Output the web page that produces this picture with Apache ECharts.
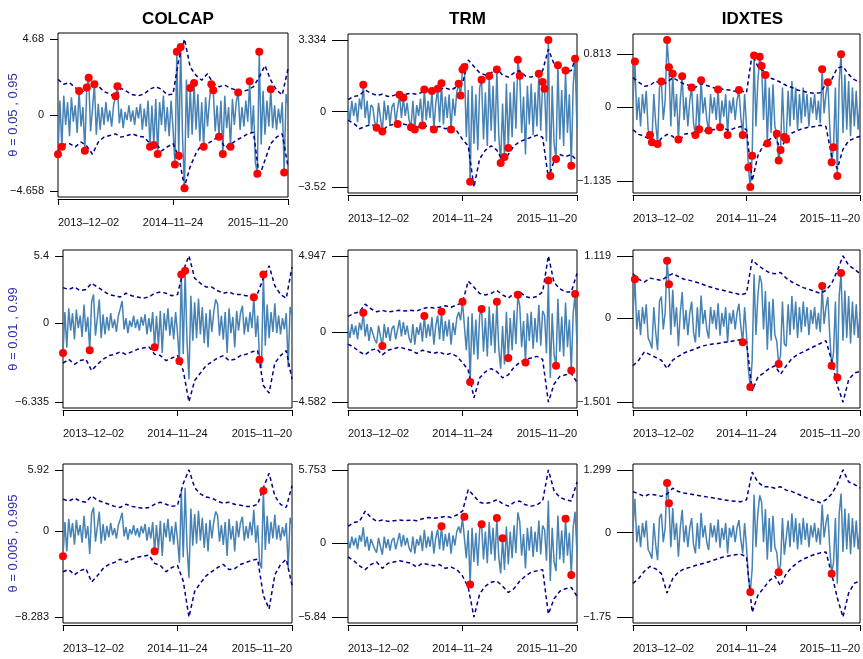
<!DOCTYPE html>
<html>
<head>
<meta charset="utf-8">
<title>VaR backtest</title>
<script src="https://cdn.jsdelivr.net/npm/echarts@6/dist/echarts.min.js"></script>
<style>
  html, body { margin: 0; padding: 0; background: #fff; }
  #chart { width: 863px; height: 659px; }
</style>
</head>
<body>
<div id="chart"></div>
<script>
// ---- data (daily returns resampled to 121 steps, quantile bands every 3rd step) ----
const markets = ['COLCAP', 'TRM', 'IDXTES'];
const thetaLabels = ['\u03b8 = 0.05 , 0.95', '\u03b8 = 0.01 , 0.99', '\u03b8 = 0.005 , 0.995'];
const dateLabels = ['2013\u201312\u201302', '2014\u201311\u201324', '2015\u201311\u201320'];
const BAND_STEP = 3;

const colcapRet = [
  -2.4, 0.9, -1.94, 1.2, -0.6, 0.8, -1.3, 1.1, -0.4, 0.6,
  -1.1, 1.49, -0.7, 0.5, -2.18, 1.7, 2.3, -1.0, 0.4, 1.9,
  -1.2, 0.7, -0.9, 0.5, -0.6, 0.8, -0.4, 0.3, -0.7, 0.6,
  1.16, 1.78, -0.5, 0.4, -0.8, 0.2, -0.3, 0.6, -0.4, 0.3,
  -0.6, 0.5, -0.2, 0.7, -0.9, 0.4, -0.7, 0.9, -1.94, 0.6,
  -1.84, 1.0, -2.39, 0.8, -0.6, 1.2, -1.0, 0.5, -1.3, 0.9,
  -0.8, -3.04, 3.9, -2.5, 4.2, -1.5, -4.5, 2.2, -1.4, 1.67,
  -1.2, 1.98, -0.9, 1.3, -1.6, 0.8, -1.94, 1.1, -0.7, 0.9,
  1.9, 1.53, -1.0, 0.6, -1.33, 0.9, -2.39, 1.2, -0.8, 0.5,
  -1.94, 1.0, -0.6, 0.8, 1.4, -0.9, 0.5, -0.7, 0.9, -0.4,
  2.08, -1.1, 0.6, -2.94, -3.6, 3.9, -1.8, 1.5, -1.2, 0.9,
  -0.7, 1.6, -0.8, 0.6, -0.9, 0.4, -0.5, 0.8, -3.53, 1.3,
  0.6
];
const trmRet = [
  0.3, -0.4, 0.5, -0.2, 0.4, -0.5, 0.6, 0.1, 1.24, -0.3,
  0.5, -0.6, 0.3, 0.2, -0.5, -0.76, 0.4, -0.3, -0.93, 0.5,
  -0.4, 0.3, -0.6, 0.2, 0.4, -0.5, -0.58, 0.78, -0.3, 0.64,
  -0.2, 0.4, -0.4, -0.73, 0.5, -0.84, 0.3, -0.2, 0.6, -0.65,
  1.03, -0.4, 0.5, -0.3, 0.96, -0.84, 0.4, 1.06, -0.5, 1.31,
  -0.6, 0.7, -0.3, 0.8, -0.84, 0.6, -0.2, 0.9, 1.29, 0.75,
  1.96, 2.07, -1.2, 1.0, -3.27, 1.2, -1.5, 0.8, -1.8, 1.1,
  1.48, -1.3, 0.9, -1.6, 1.65, -0.9, 1.2, -1.4, 1.96, -1.1,
  -2.4, 0.37, -2.12, 1.3, -1.7, 0.9, -1.2, 1.4, -0.8, 2.41,
  1.66, -1.0, 0.7, -2.0, 1.2, -0.6, 1.3, -1.1, 0.9, -0.7,
  1.76, -0.9, 1.37, 1.06, -1.4, 3.334, -3.0, 1.2, -1.5, -2.21,
  2.15, -1.3, 1.0, -1.6, 1.91, -1.0, 0.8, -2.52, 1.2, 2.46,
  -0.8
];
const idxtesRet = [
  0.1, 0.7, -0.2, 0.15, -0.3, 0.2, -0.1, 0.25, -0.35, -0.43,
  -0.54, 0.2, -0.25, -0.57, 0.3, 0.39, -0.2, 0.1, 1.03, 0.61,
  -0.3, 0.51, -0.15, 0.2, -0.5, 0.1, 0.47, -0.2, 0.15, -0.3,
  0.1, 0.3, -0.25, -0.43, 0.2, -0.34, 0.41, -0.1, 0.15, -0.2,
  -0.36, 0.2, -0.1, 0.15, -0.2, 0.27, -0.31, 0.1, -0.15, 0.2,
  -0.43, 0.1, -0.1, 0.15, -0.2, 0.1, 0.26, -0.15, -0.43, 0.2,
  -0.3, -0.93, -1.23, -0.75, 0.79, -0.3, 0.4, 0.77, 0.63, -0.2,
  0.49, -0.56, 0.3, -0.4, 0.35, -0.3, -0.41, -0.82, -0.66, 0.3,
  -0.46, -0.5, 0.25, -0.3, 0.4, -0.2, 0.3, -0.35, 0.2, -0.25,
  0.3, -0.15, 0.2, -0.3, 0.15, -0.1, 0.2, -0.2, 0.1, -0.25,
  0.58, -0.1, 0.2, 0.38, -0.3, -0.85, -0.62, 0.3, -1.06, 0.4,
  0.81, -0.4, 0.5, -0.35, 0.4, -0.45, 0.3, -0.3, 0.25, -0.35,
  0.1
];

// upper / lower quantile bands, one value every BAND_STEP steps (41 values)
const colcapQ95 = [2.2, 1.9, 2.0, 1.7, 1.4, 1.55, 1.75, 1.8, 1.45, 1.3, 1.1, 1.65, 1.45, 1.25, 1.2, 1.3, 1.6, 1.75, 1.6, 1.25, 1.3, 3.4, 4.68, 2.95, 2.45, 2.15, 2.55, 1.95, 1.75, 1.85, 1.65, 1.55, 1.45, 1.55, 1.75, 2.35, 3.05, 2.15, 1.55, 1.25, 2.85];
const colcapQ05 = [-2.2, -1.8, -1.75, -1.95, -1.65, -1.9, -2.4, -1.65, -1.35, -1.25, -1.15, -1.35, -1.25, -1.15, -1.3, -1.35, -1.75, -1.7, -2.2, -1.95, -1.75, -2.55, -4.4, -3.15, -2.35, -1.8, -1.75, -1.55, -1.25, -2.0, -1.8, -1.55, -1.35, -1.15, -1.05, -3.8, -2.75, -1.75, -1.35, -1.15, -3.15];
const colcapQ99 = [2.85, 2.7, 2.9, 2.6, 2.7, 3.2, 2.9, 2.6, 2.3, 2.2, 2.1, 2.4, 2.2, 2.1, 2.0, 2.1, 2.4, 2.5, 2.4, 2.2, 2.3, 4.2, 5.4, 3.6, 3.2, 2.9, 2.9, 2.6, 2.4, 2.5, 2.3, 2.3, 2.2, 2.2, 2.4, 3.6, 4.6, 3.0, 2.3, 2.0, 4.5];
const colcapQ01 = [-3.2, -2.9, -3.3, -3.0, -2.9, -3.8, -3.3, -2.9, -2.6, -2.5, -2.3, -2.5, -2.3, -2.1, -2.0, -1.9, -2.5, -2.6, -3.0, -2.8, -2.6, -3.8, -6.3, -4.6, -4.0, -3.4, -3.1, -2.8, -2.6, -3.0, -2.9, -2.6, -2.5, -2.3, -2.2, -5.0, -5.6, -3.2, -2.6, -2.2, -4.5];
const colcapQ995 = [3.1, 2.9, 3.2, 2.9, 2.8, 3.4, 3.0, 2.8, 2.6, 2.4, 2.3, 2.6, 2.4, 2.3, 2.2, 2.3, 2.6, 2.8, 2.6, 2.4, 2.5, 4.6, 5.92, 4.2, 3.6, 3.3, 3.2, 2.9, 2.7, 2.8, 2.6, 2.5, 2.4, 2.4, 2.6, 4.2, 5.6, 3.4, 2.6, 2.3, 4.4];
const colcapQ005 = [-3.9, -3.7, -4.2, -3.8, -3.6, -4.9, -4.3, -3.6, -3.2, -3.0, -2.7, -3.0, -2.7, -2.5, -2.4, -2.3, -3.1, -3.3, -3.9, -3.5, -3.3, -4.8, -8.28, -5.8, -5.0, -4.3, -3.9, -3.5, -3.2, -3.7, -3.6, -3.2, -3.0, -2.8, -2.7, -6.2, -7.5, -4.2, -3.2, -2.7, -5.2];

const trmQ95 = [0.55, 0.7, 0.75, 1.0, 0.85, 0.75, 0.8, 0.7, 0.75, 0.85, 0.8, 0.85, 0.8, 0.9, 1.0, 0.95, 1.05, 1.1, 1.0, 1.15, 1.3, 2.4, 2.1, 1.8, 1.7, 1.8, 2.0, 1.7, 1.6, 1.8, 1.9, 1.65, 1.6, 1.7, 1.9, 2.9, 2.2, 2.0, 1.9, 1.9, 2.7];
const trmQ05 = [-0.4, -0.55, -0.8, -0.7, -0.6, -0.7, -0.9, -0.65, -0.6, -0.55, -0.6, -0.65, -0.75, -0.65, -0.7, -0.75, -0.7, -0.8, -0.75, -0.9, -1.3, -1.6, -3.52, -2.2, -1.8, -1.6, -1.8, -2.3, -2.0, -1.6, -1.4, -1.3, -1.2, -1.1, -1.2, -3.1, -2.3, -2.0, -2.1, -2.0, -2.3];
const trmQ99 = [1.0, 1.2, 1.3, 1.8, 1.5, 1.3, 1.4, 1.3, 1.35, 1.4, 1.35, 1.4, 1.35, 1.5, 1.6, 1.55, 1.6, 1.7, 1.6, 1.75, 1.9, 3.3, 2.9, 2.5, 2.4, 2.5, 2.7, 2.4, 2.2, 2.5, 2.6, 2.3, 2.2, 2.3, 2.6, 4.947, 3.2, 2.8, 2.6, 2.6, 3.8];
const trmQ01 = [-0.8, -1.0, -1.3, -1.5, -1.2, -1.1, -1.5, -1.2, -1.1, -1.0, -1.1, -1.2, -1.4, -1.2, -1.3, -1.4, -1.3, -1.5, -1.4, -1.6, -2.0, -2.5, -4.3, -3.0, -2.6, -2.4, -2.6, -3.0, -2.8, -2.3, -2.0, -1.8, -1.7, -1.6, -1.8, -4.582, -3.4, -2.9, -2.8, -2.7, -3.3];
const trmQ995 = [1.3, 1.6, 1.7, 2.5, 2.0, 1.7, 1.8, 1.7, 1.75, 1.8, 1.75, 1.8, 1.75, 1.9, 2.0, 1.95, 2.0, 2.1, 2.0, 2.2, 2.5, 4.2, 3.7, 3.2, 3.1, 3.2, 3.4, 3.1, 2.9, 3.2, 3.3, 3.0, 2.9, 3.0, 3.3, 5.753, 4.1, 3.6, 3.4, 3.3, 4.8];
const trmQ005 = [-1.1, -1.4, -1.8, -2.1, -1.7, -1.5, -2.0, -1.6, -1.5, -1.4, -1.5, -1.6, -1.9, -1.6, -1.7, -1.8, -1.7, -2.0, -1.9, -2.1, -2.6, -3.5, -5.84, -4.0, -3.4, -3.1, -3.0, -3.4, -3.9, -3.6, -3.0, -2.6, -2.3, -2.2, -2.1, -5.6, -4.4, -3.8, -3.6, -3.5, -4.2];

const idxtesQ95 = [0.45, 0.38, 0.32, 0.33, 0.4, 0.35, 0.38, 0.45, 0.4, 0.35, 0.33, 0.3, 0.36, 0.33, 0.3, 0.28, 0.27, 0.26, 0.24, 0.25, 0.22, 0.813, 0.62, 0.55, 0.45, 0.42, 0.38, 0.33, 0.3, 0.26, 0.24, 0.22, 0.21, 0.22, 0.35, 0.42, 0.6, 0.62, 0.5, 0.42, 0.38];
const idxtesQ05 = [-0.35, -0.42, -0.45, -0.5, -0.6, -0.48, -0.42, -0.45, -0.55, -0.42, -0.4, -0.42, -0.38, -0.36, -0.35, -0.34, -0.33, -0.36, -0.32, -0.3, -0.35, -1.135, -0.75, -0.58, -0.5, -0.45, -0.65, -0.48, -0.4, -0.36, -0.33, -0.31, -0.3, -0.28, -0.3, -0.75, -0.95, -0.65, -0.52, -0.48, -0.45];
const idxtesQ99 = [0.8, 0.7, 0.65, 0.72, 0.7, 0.68, 0.75, 0.8, 0.75, 0.7, 0.68, 0.65, 0.62, 0.58, 0.55, 0.52, 0.5, 0.47, 0.45, 0.42, 0.45, 1.05, 0.95, 0.88, 0.82, 0.8, 0.82, 0.72, 0.65, 0.6, 0.55, 0.52, 0.48, 0.45, 0.5, 0.62, 0.85, 1.119, 0.95, 0.88, 0.8];
const idxtesQ01 = [-0.85, -0.75, -0.6, -0.65, -0.7, -0.75, -0.9, -0.75, -0.68, -0.62, -0.58, -0.55, -0.5, -0.48, -0.46, -0.45, -0.43, -0.42, -0.4, -0.38, -0.42, -1.3, -1.05, -0.98, -0.9, -0.85, -1.0, -0.85, -0.72, -0.65, -0.6, -0.55, -0.5, -0.45, -0.4, -0.75, -1.2, -1.501, -1.1, -0.98, -0.95];
const idxtesQ995 = [0.85, 0.8, 0.75, 0.8, 0.78, 0.75, 0.8, 0.92, 0.85, 0.82, 0.8, 0.78, 0.76, 0.74, 0.72, 0.7, 0.68, 0.66, 0.65, 0.64, 0.68, 1.25, 1.05, 0.95, 0.95, 0.92, 0.95, 0.88, 0.85, 0.8, 0.75, 0.7, 0.66, 0.62, 0.68, 0.8, 1.0, 1.299, 1.05, 1.0, 0.92];
const idxtesQ005 = [-1.05, -0.95, -0.8, -0.7, -0.75, -0.85, -1.25, -0.95, -0.82, -0.75, -0.72, -0.68, -0.65, -0.62, -0.58, -0.54, -0.5, -0.48, -0.46, -0.45, -0.5, -1.65, -1.3, -1.15, -1.0, -0.9, -1.1, -0.85, -0.72, -0.62, -0.55, -0.5, -0.45, -0.42, -0.4, -0.85, -1.35, -1.75, -1.25, -1.05, -1.0];

// steps where the return falls outside the band (red points)
const colcapHit05 = [0, 2, 11, 14, 15, 16, 19, 30, 31, 48, 50, 52, 61, 62, 63, 64, 66, 69, 71, 76, 80, 81, 84, 86, 90, 94, 100, 104, 105, 111, 118];
const colcapHit01 = [0, 14, 48, 61, 62, 64, 100, 103, 105];
const colcapHit005 = [0, 48, 105];
const trmHit05 = [8, 15, 18, 26, 27, 29, 33, 35, 39, 40, 44, 45, 47, 49, 54, 58, 59, 60, 61, 64, 70, 74, 78, 80, 82, 84, 89, 90, 100, 102, 103, 105, 106, 109, 110, 114, 117, 119];
const trmHit01 = [8, 18, 40, 49, 60, 64, 70, 78, 84, 89, 93, 105, 109, 117, 119];
const trmHit005 = [49, 61, 64, 70, 78, 81, 114, 117];
const idxtesHit05 = [1, 9, 10, 13, 15, 18, 19, 21, 24, 26, 31, 33, 35, 36, 40, 45, 46, 50, 56, 58, 61, 62, 63, 64, 67, 68, 70, 71, 76, 77, 78, 80, 81, 100, 103, 105, 106, 108, 110];
const idxtesHit01 = [1, 18, 19, 58, 62, 77, 100, 105, 108, 110];
const idxtesHit005 = [18, 19, 62, 77, 105];

// y tick values per panel (min, 0, max) and the data extent used for the y range
const colcapTicks = [[-4.658, 0, 4.68], [-6.335, 0, 5.4], [-8.283, 0, 5.92]];
const trmTicks = [[-3.52, 0, 3.334], [-4.582, 0, 4.947], [-5.84, 0, 5.753]];
const idxtesTicks = [[-1.135, 0, 0.813], [-1.501, 0, 1.119], [-1.75, 0, 1.299]];
const idxtesExtent05 = [-1.23, 1.03];

// ---- layout ----
const boxes = [
  [[58, 33, 230, 164], [348, 34, 229, 159], [633, 34, 229, 159]],
  [[63, 250, 229, 158], [348, 250, 229, 158], [633, 250, 229, 158]],
  [[63, 464, 229, 159], [348, 464, 229, 159], [633, 464, 229, 159]]
];
const FONT = '"Liberation Sans", Arial, sans-serif';

const panels = [
  [
    { ret: colcapRet, up: colcapQ95, lo: colcapQ05, hits: colcapHit05, ticks: colcapTicks[0] },
    { ret: trmRet, up: trmQ95, lo: trmQ05, hits: trmHit05, ticks: trmTicks[0] },
    { ret: idxtesRet, up: idxtesQ95, lo: idxtesQ05, hits: idxtesHit05, ticks: idxtesTicks[0], extent: idxtesExtent05 }
  ],
  [
    { ret: colcapRet, up: colcapQ99, lo: colcapQ01, hits: colcapHit01, ticks: colcapTicks[1] },
    { ret: trmRet, up: trmQ99, lo: trmQ01, hits: trmHit01, ticks: trmTicks[1] },
    { ret: idxtesRet, up: idxtesQ99, lo: idxtesQ01, hits: idxtesHit01, ticks: idxtesTicks[1] }
  ],
  [
    { ret: colcapRet, up: colcapQ995, lo: colcapQ005, hits: colcapHit005, ticks: colcapTicks[2] },
    { ret: trmRet, up: trmQ995, lo: trmQ005, hits: trmHit005, ticks: trmTicks[2] },
    { ret: idxtesRet, up: idxtesQ995, lo: idxtesQ005, hits: idxtesHit005, ticks: idxtesTicks[2] }
  ]
];

const grids = [];
const xAxes = [];
const yAxes = [];
const series = [];
const xMax = colcapRet.length - 1;
const xTicks = [0, xMax / 2, xMax];

const fmtNum = v => (v === 0 ? '0' : String(v).replace('-', '\u2212'));

panels.forEach((row, r) => {
  row.forEach((p, c) => {
    const idx = grids.length;
    const b = boxes[r][c];
    const ext = p.extent || [p.ticks[0], p.ticks[2]];
    const pad = (ext[1] - ext[0]) * 0.04;
    const tickLen = c === 0 ? 8 : 16;

    grids.push({
      left: b[0], top: b[1], width: b[2], height: b[3],
      show: true, borderColor: '#000', borderWidth: 1, backgroundColor: 'transparent'
    });

    xAxes.push({
      gridIndex: idx, type: 'value', min: 0, max: xMax, offset: 2,
      axisLine: { show: true, onZero: false, lineStyle: { color: '#000', width: 1 } },
      axisTick: { show: true, customValues: xTicks, length: 6, lineStyle: { color: '#000' } },
      axisLabel: {
        customValues: xTicks, margin: 18, color: '#111', fontSize: 11, fontFamily: FONT,
        alignMinLabel: 'left', alignMaxLabel: 'right',
        formatter: v => dateLabels[Math.round(v / (xMax / 2))]
      },
      splitLine: { show: false }
    });

    yAxes.push({
      gridIndex: idx, type: 'value', min: ext[0] - pad, max: ext[1] + pad,
      axisLine: { show: false, onZero: false },
      axisTick: { show: true, customValues: p.ticks, length: tickLen, lineStyle: { color: '#000' } },
      axisLabel: {
        customValues: p.ticks, margin: tickLen + 6, color: '#111', fontSize: 11, fontFamily: FONT,
        formatter: v => {
          let best = p.ticks[0];
          p.ticks.forEach(t => { if (Math.abs(t - v) < Math.abs(best - v)) best = t; });
          return fmtNum(best);
        }
      },
      splitLine: { show: false }
    });

    series.push({
      type: 'line', xAxisIndex: idx, yAxisIndex: idx, symbol: 'none', silent: true,
      data: p.ret.map((v, i) => [i, v]),
      lineStyle: { color: '#4682B4', width: 1.5 }, z: 2
    });
    [p.up, p.lo].forEach(band => {
      series.push({
        type: 'line', xAxisIndex: idx, yAxisIndex: idx, symbol: 'none', silent: true,
        data: band.map((v, k) => [k * BAND_STEP, v]),
        lineStyle: { color: '#00008B', width: 1.5, type: [4, 3] }, z: 3
      });
    });
    series.push({
      type: 'scatter', xAxisIndex: idx, yAxisIndex: idx, silent: true,
      data: p.hits.map(i => [i, p.ret[i]]),
      symbolSize: 8, itemStyle: { color: '#FF0000', opacity: 1 }, z: 4
    });
  });
});

const titles = markets.map((m, c) => ({
  text: m,
  left: boxes[0][c][0] + boxes[0][c][2] / 2,
  top: 6,
  textAlign: 'center',
  textStyle: { fontSize: 17, fontWeight: 'bold', color: '#000', fontFamily: FONT }
}));

const rowLabels = thetaLabels.map((t, r) => ({
  type: 'text',
  x: 13,
  y: boxes[r][0][1] + boxes[r][0][3] / 2,
  rotation: Math.PI / 2,
  style: {
    text: t, fill: '#3030b0', font: '13px ' + FONT,
    align: 'center', verticalAlign: 'middle', textAlign: 'center', textVerticalAlign: 'middle'
  }
}));

const chart = echarts.init(document.getElementById('chart'), null, { renderer: 'canvas' });
chart.setOption({
  animation: false,
  backgroundColor: '#fff',
  title: titles,
  grid: grids,
  xAxis: xAxes,
  yAxis: yAxes,
  series: series,
  graphic: rowLabels
});
window.addEventListener('resize', () => chart.resize());
</script>
</body>
</html>
